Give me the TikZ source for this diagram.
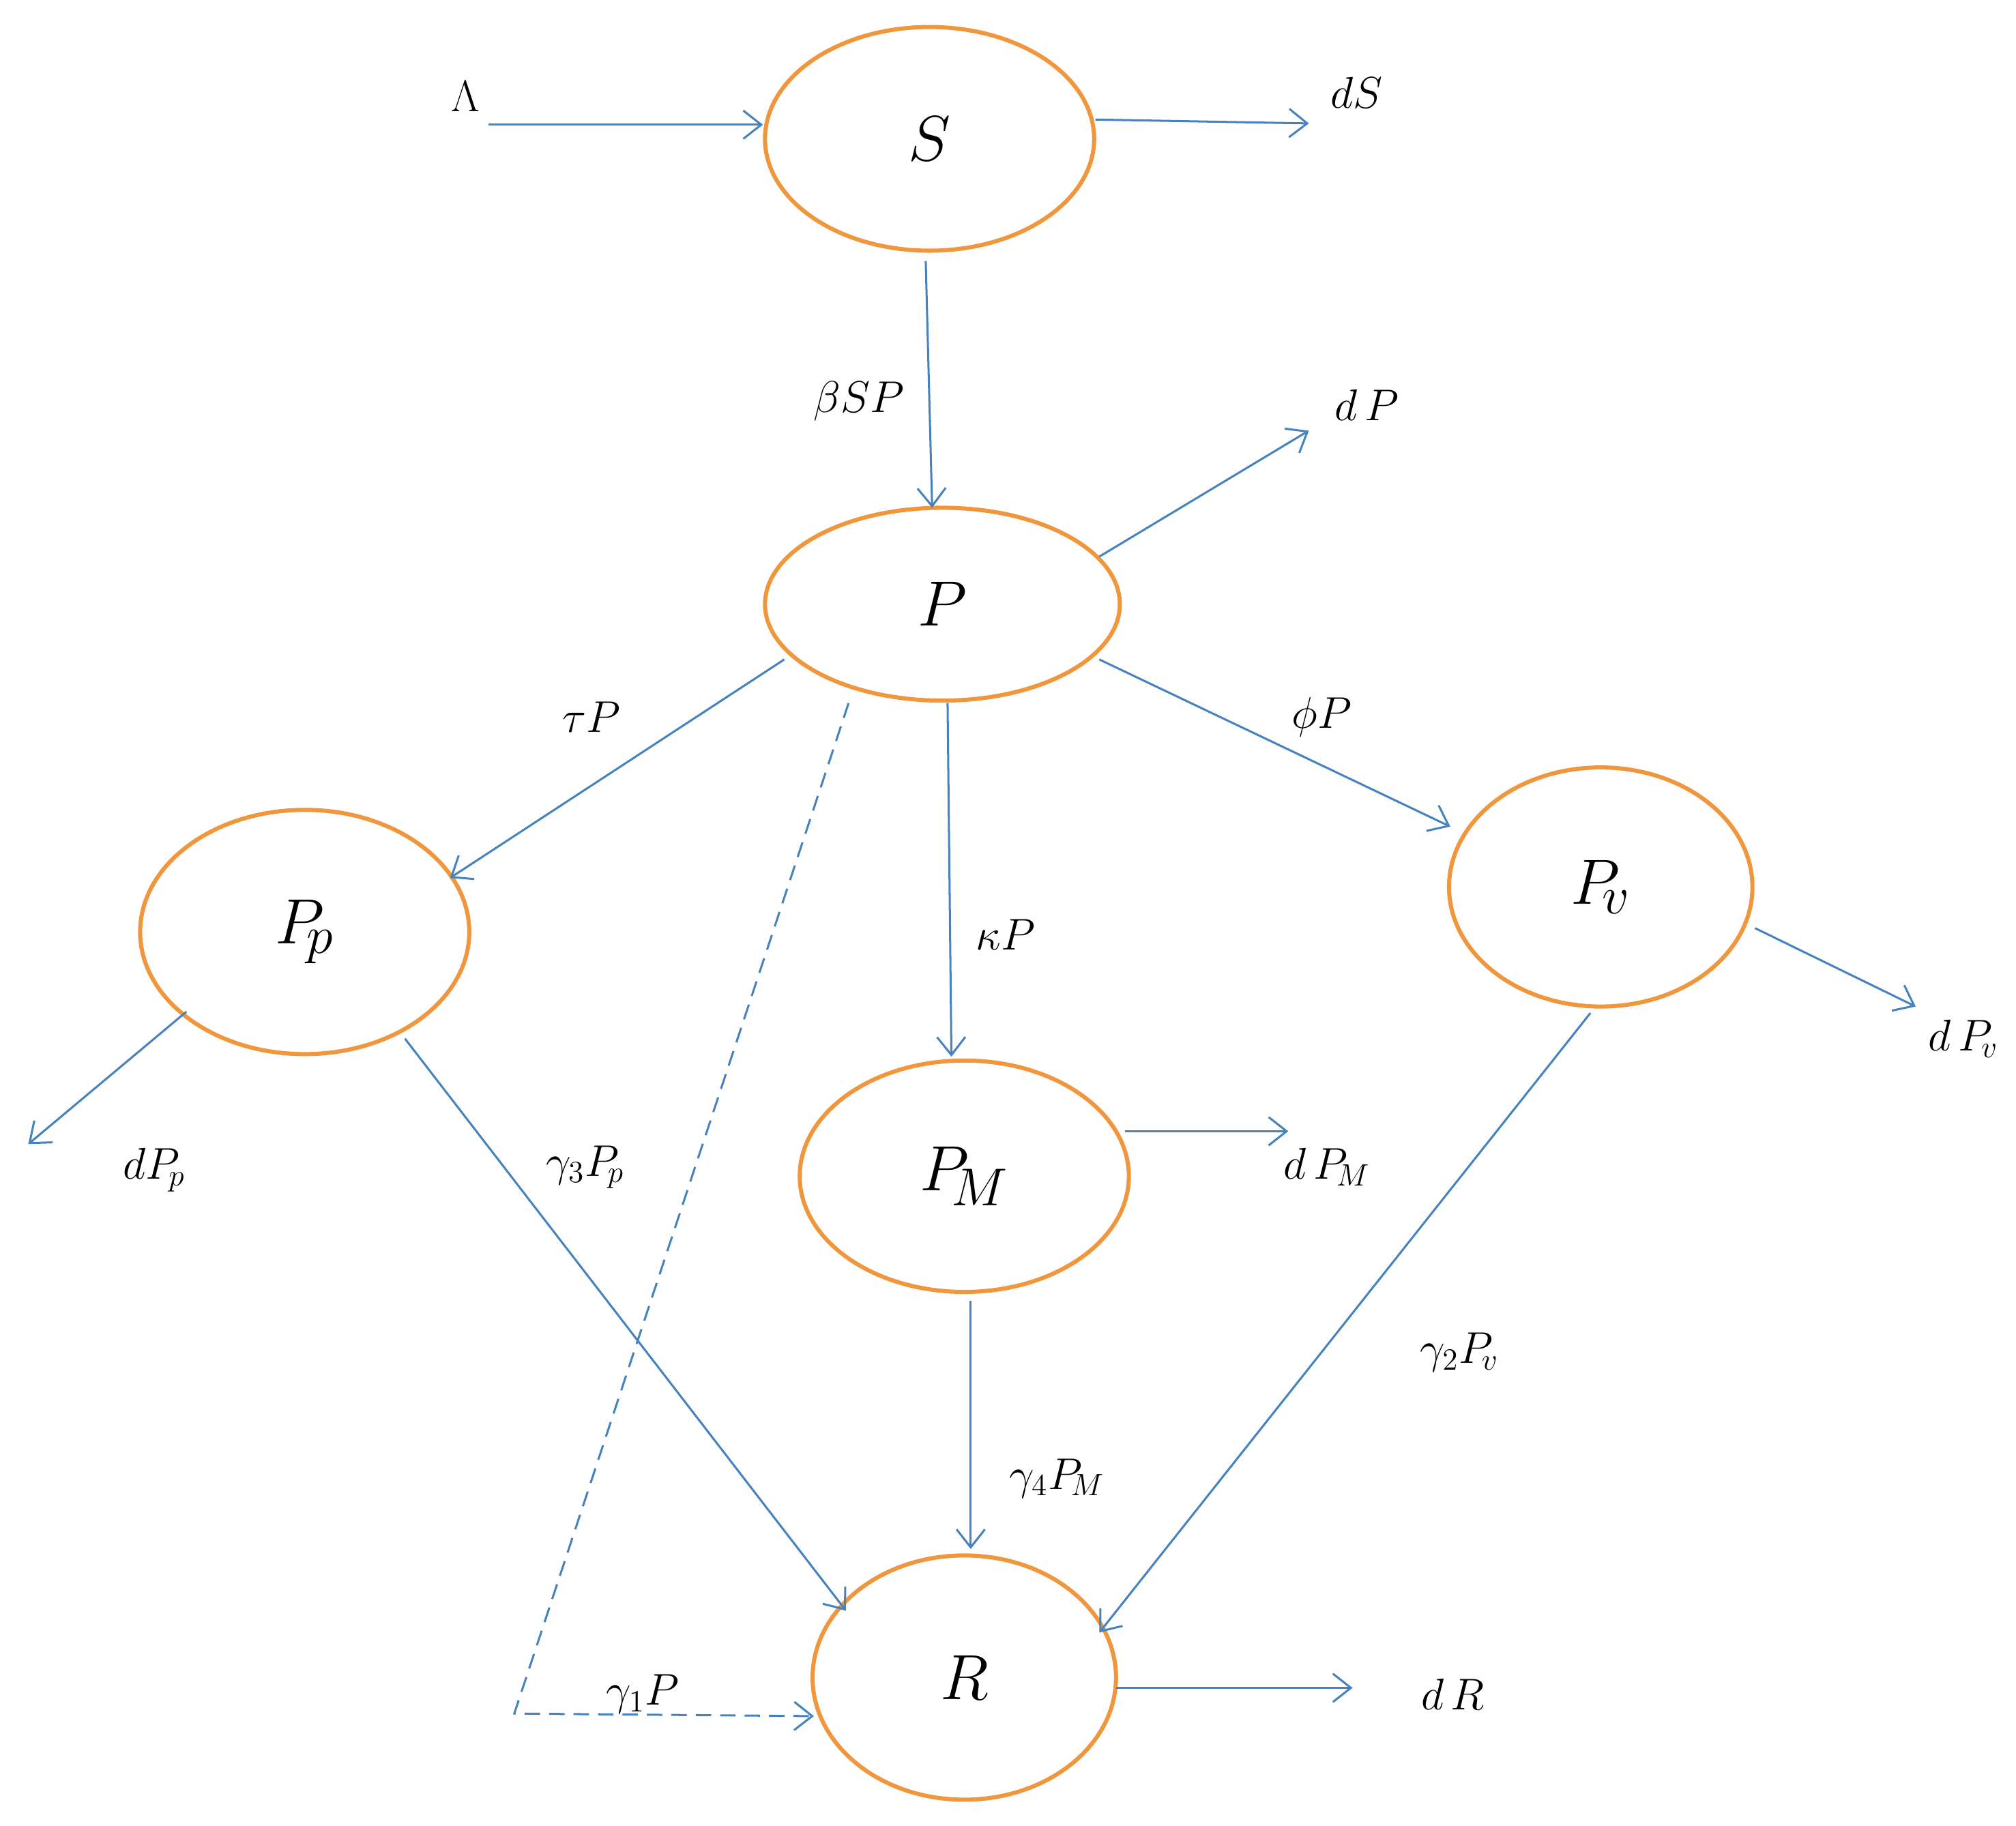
\documentclass[tikz,border=0pt]{standalone}
\usetikzlibrary{arrows.meta,shapes.geometric}
\begin{document}
\begin{tikzpicture}[x=0.5pt,y=-0.5pt,
  st/.style={draw=orange!85!red!60!yellow,line width=1.6pt,ellipse,inner sep=0pt},
  ar/.style={draw=blue!40!cyan!60!black,line width=0.8pt,-{Straight Barb[length=7pt,width=11pt]}},
  lb/.style={font=\fontsize{17}{20}\selectfont},
  nl/.style={font=\fontsize{30}{34}\selectfont}]
\definecolor{lineb}{RGB}{70,130,190}
\definecolor{orng}{RGB}{240,150,60}
\tikzset{st/.append style={draw=orng},ar/.append style={draw=lineb}}
\useasboundingbox (0,0) rectangle (1568,1420);
\node[st,minimum width=128pt,minimum height=87pt,nl] (S) at (723,108) {$S$};
\node[st,minimum width=138pt,minimum height=75pt,nl] (P) at (733,470) {$P$};
\node[st,minimum width=128pt,minimum height=95pt,nl] (Pp) at (237,725) {$P_{\!p}$};
\node[st,minimum width=128pt,minimum height=90pt,nl] (PM) at (750,915) {$P_{\!M}$};
\node[st,minimum width=118pt,minimum height=93pt,nl] (Pv) at (1245,690) {$P_{\!v}$};
\node[st,minimum width=118pt,minimum height=95pt,font=\fontsize{36}{40}\selectfont] (R) at (750,1305) {$R$};
\coordinate (lam) at (380,97);
\coordinate (dS) at (1018,96);
\coordinate (dP) at (1018,335);
\coordinate (dPv) at (1490,783);
\coordinate (dPp) at (22,890);
\coordinate (dPM) at (1002,880);
\coordinate (dR) at (1052,1313);
\coordinate (d1) at (660,547);
\coordinate (d2) at (400,1333);
\coordinate (d3) at (633,1335);
\draw[ar] (lam) -- (S.west|-lam);
\draw[ar] (852,93) -- (dS);
\draw[ar] (720,203) -- (725,395);
\draw[ar] (855,433) -- (dP);
\draw[ar] (610,513) -- (350,683);
\draw[ar] (737,547) -- (740,822);
\draw[ar] (855,513) -- (1128,643);
\draw[ar] (1365,722) -- (dPv);
\draw[ar] (145,787) -- (dPp);
\draw[ar] (315,808) -- (658,1253);
\draw[ar] (875,880) -- (dPM);
\draw[ar] (755,1012) -- (755,1205);
\draw[ar] (1237,788) -- (855,1270);
\draw[ar] (868,1313) -- (dR);
\draw[ar,dash pattern=on 6pt off 3.5pt] (d1) -- (d2) -- (d3);
\node[lb] at (362,75) {$\Lambda$};
\node[lb] at (1055,72) {$dS$};
\node[lb] at (668,312) {$\beta SP$};
\node[lb] at (1063,315) {$d\,P$};
\node[lb] at (460,558) {$\tau P$};
\node[lb] at (782,727) {$\kappa P$};
\node[lb] at (1028,558) {$\phi P$};
\node[lb] at (1527,808) {$d\,P_{\!v}$};
\node[lb] at (120,910) {$dP_{\!p}$};
\node[lb] at (455,908) {$\gamma_3P_{\!p}$};
\node[lb] at (1032,908) {$d\,P_{\!M}$};
\node[lb] at (822,1150) {$\gamma_4P_{\!M}$};
\node[lb] at (1135,1052) {$\gamma_2P_{\!v}$};
\node[lb] at (500,1318) {$\gamma_1P$};
\node[lb] at (1130,1318) {$d\,R$};
\end{tikzpicture}
\end{document}
